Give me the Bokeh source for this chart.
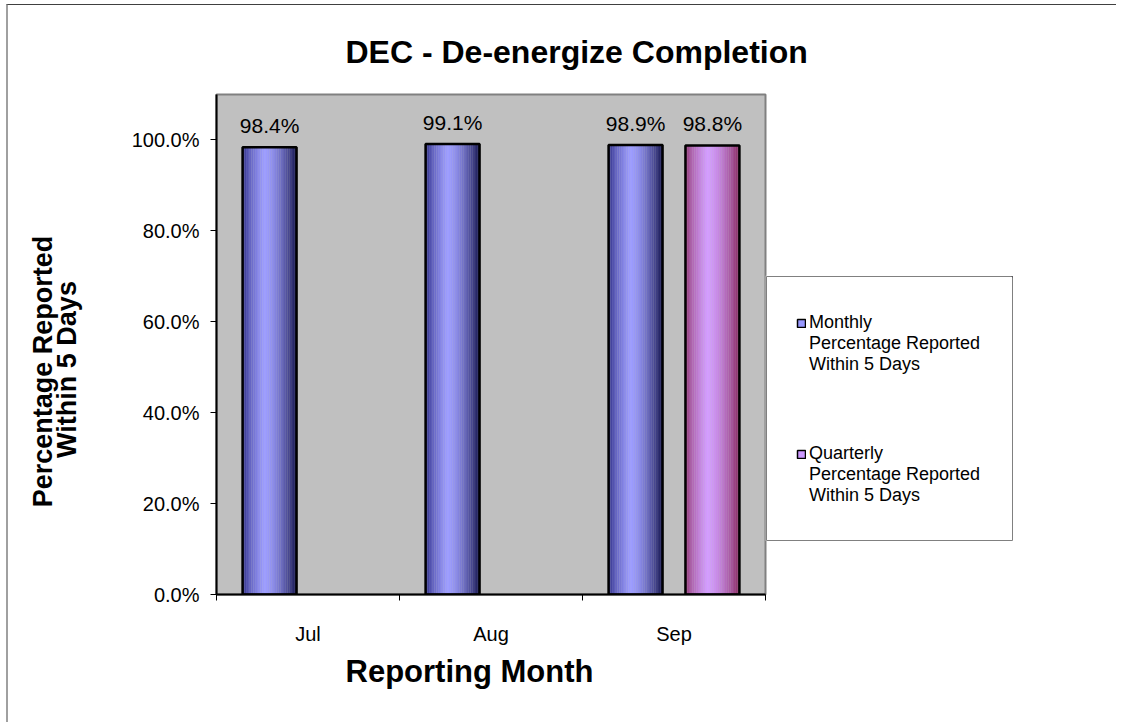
import numpy as np
from bokeh.plotting import figure
from bokeh.models import (Range1d, FixedTicker, NumeralTickFormatter, ColumnDataSource,
                          LabelSet, Label, Legend, LegendItem, Title)
from bokeh.core.properties import value
from bokeh.embed import file_html
from bokeh.resources import INLINE

months = ["Jul", "Aug", "Sep"]
monthly = [0.984, 0.991, 0.989]
quarterly_months = ["Sep"]
quarterly = [0.988]
y_ticks = [0.0, 0.2, 0.4, 0.6, 0.8, 1.0]
series_labels = ["Monthly\nPercentage Reported\nWithin 5 Days",
                 "Quarterly\nPercentage Reported\nWithin 5 Days"]
y_title_lines = ["Percentage Reported", "Within 5 Days"]

FONT = "Liberation Sans"
W, H = 1110, 718
FL, FT, FR, FB = 208, 89, 757, 589

p = figure(width=W, height=H, x_range=Range1d(0, len(months)), y_range=Range1d(0, 1.1),
           output_backend="svg", toolbar_location=None,
           min_border_left=FL, min_border_top=FT, min_border_right=W - FR, min_border_bottom=H - FB)
p.styles = {"margin-left": "6px", "margin-top": "4px",
            "border-top": "1px solid #404040", "border-left": "2px solid #a0a0a0"}
p.background_fill_color = "#c0c0c0"
p.border_fill_color = "white"
p.outline_line_color = "#808080"
p.outline_line_width = 2
p.xgrid.visible = False
p.ygrid.visible = False

# y axis
p.yaxis.ticker = FixedTicker(ticks=y_ticks)
p.yaxis.formatter = NumeralTickFormatter(format="0.0%")
p.yaxis.major_tick_in = 0
p.yaxis.major_tick_out = 6
p.yaxis.minor_tick_out = 0
p.yaxis.minor_tick_in = 0
p.yaxis.axis_line_color = "black"
p.yaxis.axis_line_width = 2
p.yaxis.major_label_text_font = FONT
p.yaxis.major_label_text_font_size = "20px"
p.yaxis.major_label_text_color = "black"
p.yaxis.major_label_standoff = 11

# x axis
idx = np.arange(len(months))
centers = idx + 0.5
p.xaxis.ticker = FixedTicker(ticks=list(centers), minor_ticks=list(np.arange(len(months) + 1)))
p.xaxis.major_label_overrides = {float(c): m for c, m in zip(centers, months)}
p.xaxis.major_tick_in = 0
p.xaxis.major_tick_out = 0
p.xaxis.minor_tick_in = 0
p.xaxis.minor_tick_out = 6
p.xaxis.minor_tick_line_color = "black"
p.xaxis.axis_line_color = "black"
p.xaxis.axis_line_width = 2
p.xaxis.major_label_text_font = FONT
p.xaxis.major_label_text_font_size = "20px"
p.xaxis.major_label_text_color = "black"
p.xaxis.major_label_standoff = 22

BW = 0.295
OFF = 0.21

def lerp(c1, c2, t):
    a = np.array([int(c1[i:i + 2], 16) for i in (1, 3, 5)], float)
    b = np.array([int(c2[i:i + 2], 16) for i in (1, 3, 5)], float)
    c = a + (b - a) * t
    return "#%02x%02x%02x" % tuple(int(round(v)) for v in c)

def gradient_bars(xs, tops, dark_l, dark_r, light):
    K = 30
    sw = BW / K
    for k in range(K):
        u = (k + 0.5) / K
        if u < 0.4:
            t = (u / 0.4) ** 0.6
            col = lerp(dark_l, light, t)
        else:
            t = ((u - 0.4) / 0.6) ** 1.6
            col = lerp(light, dark_r, t)
        xk = [x - BW / 2 + (k + 0.5) * sw for x in xs]
        p.vbar(x=xk, top=tops, bottom=0, width=sw * 1.08, fill_color=col, line_color=None)
    p.vbar(x=xs, top=tops, bottom=0, width=BW, fill_color=None, line_color="black", line_width=2.5)

m_x = list(centers - OFF)
q_x = [months.index(m) + 0.5 + OFF for m in quarterly_months]
gradient_bars(m_x, monthly, "#202078", "#161650", "#9d9dff")
gradient_bars(q_x, quarterly, "#8a2a60", "#8a2a60", "#d39dff")

lab_src = ColumnDataSource(dict(x=m_x + q_x, y=monthly + quarterly,
                                t=["%.1f%%" % (v * 100) for v in monthly + quarterly]))
p.add_layout(LabelSet(x="x", y="y", text="t", source=lab_src, y_offset=14,
                      text_align="center", text_baseline="alphabetic",
                      text_font=value(FONT), text_font_size="21px", text_color="black"))

# titles
p.title.text = "DEC - De-energize Completion"
p.title.align = "left"
p.title.offset = 129
p.title.text_font = FONT
p.title.text_font_size = "32px"
p.title.text_font_style = "bold"
p.title.text_color = "black"
p.title.standoff = 50

p.add_layout(Title(text="Reporting Month", align="left", offset=129, standoff=12,
                   text_font=FONT, text_font_size="31px", text_font_style="bold",
                   text_color="black", vertical_align="top"), "below")

# y-axis title (separate transparent canvas on the left)
p3 = figure(width=70, height=310, x_range=Range1d(0, 1), y_range=Range1d(0, 1),
            x_axis_type=None, y_axis_type=None, output_backend="svg", toolbar_location=None,
            min_border=0)
p3.styles = {"position": "absolute", "left": "20px", "top": "220px"}
p3.outline_line_color = None
p3.background_fill_alpha = 0
p3.border_fill_alpha = 0
for txt, lx, ly in zip(y_title_lines, [22, 46], [159, 161]):
    p3.add_layout(Label(x=lx, y=ly, x_units="screen", y_units="screen", text=txt,
                        angle=np.pi / 2, text_align="center", text_baseline="middle",
                        text_font=FONT, text_font_size="27px", text_font_style="bold",
                        text_color="black"))

# legend (separate small canvas placed over the right side)
p2 = figure(width=248, height=266, x_range=Range1d(0, 1), y_range=Range1d(0, 1),
            x_axis_type=None, y_axis_type=None, output_backend="svg", toolbar_location=None,
            min_border=1)
p2.styles = {"position": "absolute", "left": "765px", "top": "275px"}
p2.outline_line_color = "#808080"
p2.outline_line_width = 1
p2.background_fill_color = "white"
p2.border_fill_color = "white"
r_m = p2.vbar(x=[5], top=[5], bottom=[4], width=0.1, fill_color="#9999ff", line_color="black", line_width=1.5)
r_q = p2.vbar(x=[5], top=[5], bottom=[4], width=0.1, fill_color="#cc99ff", line_color="black", line_width=1.5)
legend = Legend(items=[LegendItem(label="\n\n" + series_labels[0], renderers=[r_m]),
                       LegendItem(label="\n\n" + series_labels[1], renderers=[r_q])],
                location=(30, 34))
legend.glyph_width = 10
legend.glyph_height = 10
legend.label_text_font = FONT
legend.label_text_font_size = "18px"
legend.label_text_color = "black"
legend.label_standoff = 3
legend.spacing = 26
legend.padding = 0
legend.margin = 0
legend.border_line_color = None
legend.background_fill_alpha = 0
p2.add_layout(legend, "center")

open("out.html", "w").write(file_html([p, p2, p3], INLINE))
